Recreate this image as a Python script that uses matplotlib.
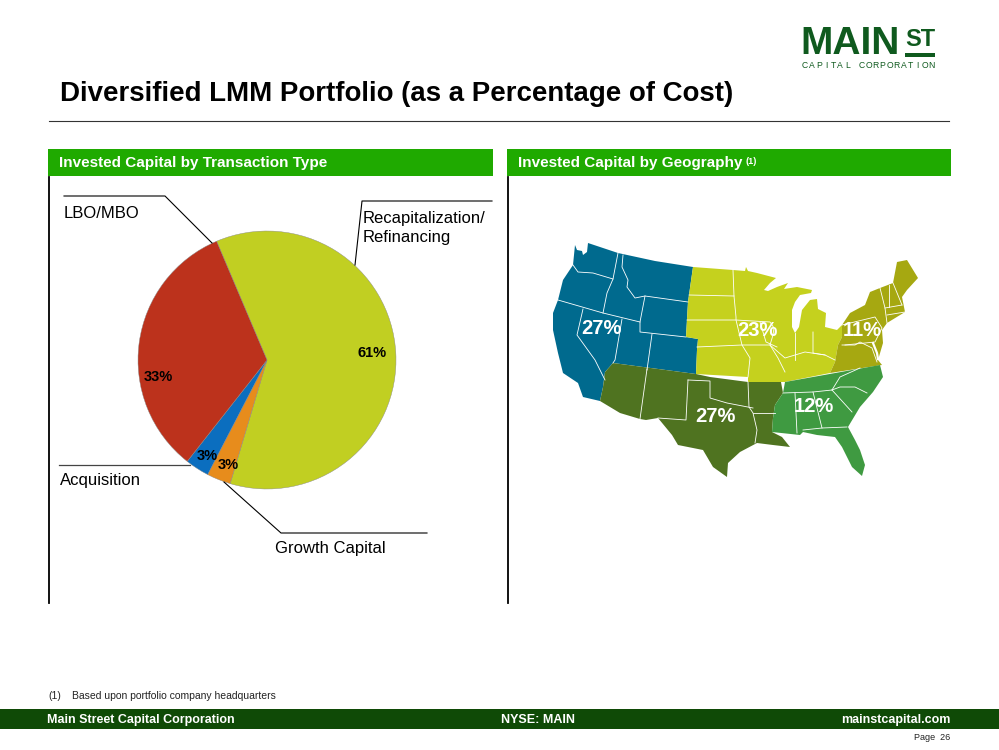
import matplotlib
matplotlib.use("Agg")
from matplotlib import pyplot as plt
from matplotlib.patches import Polygon, Rectangle

plt.rcParams['font.family'] = ['Liberation Sans', 'DejaVu Sans']

# pie data
pie_names = ["Recapitalization/\nRefinancing", "Growth Capital", "Acquisition", "LBO/MBO"]
pie_values = [61, 3, 3, 33]
pie_colors = ["#C1CF22", "#E78C1C", "#0B6EBF", "#BC321C"]

# map labels
geo_labels = ["27%", "23%", "11%", "27%", "12%"]
geo_pos = [(601, 329), (757, 331), (862, 331), (715, 417), (814, 407)]

# region outlines, pixels of the slide
west = [(575, 245), (577, 250), (582, 251), (583, 255), (587, 252), (588, 243), (618, 253), (655, 261), (693, 267),
        (688, 302), (686, 337), (698, 339), (697, 350), (696, 374), (613, 363), (605, 372), (603, 387), (600, 401),
        (583, 397), (578, 383), (563, 373), (558, 353), (553, 330), (553, 313), (558, 300), (563, 280), (573, 265)]
southwest = [(613, 363), (696, 374), (710, 377), (748, 382), (781, 382), (783, 393), (775, 405), (773, 418), (772, 432),
             (782, 437), (790, 447), (773, 445), (757, 443), (740, 452), (728, 463), (727, 477), (713, 467), (703, 450),
             (678, 445), (672, 435), (658, 418), (646, 420), (640, 419), (620, 413), (600, 401), (603, 387), (605, 372)]
midwest = [(693, 267), (733, 270), (745, 271), (746, 267), (748, 271), (757, 273), (776, 278), (770, 283), (764, 290),
           (768, 291), (777, 287), (788, 283), (784, 289), (797, 287), (812, 290), (811, 293), (800, 295), (795, 302),
           (792, 310), (792, 327), (795, 333), (799, 327), (802, 310), (810, 300), (817, 299), (818, 309), (826, 313),
           (825, 327), (837, 330), (842, 325), (842, 337), (838, 345), (835, 362), (830, 373), (785, 382), (748, 382),
           (748, 377), (696, 374), (697, 350), (698, 339), (686, 337), (688, 302)]
northeast = [(842, 325), (850, 313), (865, 305), (870, 292), (880, 288), (893, 283), (897, 262), (907, 260), (918, 278),
             (907, 290), (902, 297), (905, 312), (887, 323), (882, 330), (883, 343), (878, 360), (882, 365), (830, 373),
             (835, 362), (838, 345), (842, 337)]
southeast = [(785, 382), (880, 365), (883, 377), (873, 392), (860, 407), (848, 427), (855, 440), (860, 450), (865, 465),
             (862, 476), (852, 467), (842, 447), (835, 437), (817, 435), (803, 432), (800, 435), (772, 432), (773, 418),
             (775, 405), (783, 393)]
regions = [(west, "#006A8E"), (southwest, "#4F7320"), (midwest, "#C5D11E"), (northeast, "#A6A811"), (southeast, "#3F9A41")]

# state borders
borders = [
    [(573, 265), (578, 272), (593, 273), (613, 279)],
    [(618, 253), (613, 279), (607, 293), (603, 313)],
    [(558, 300), (603, 313), (640, 322)],
    [(623, 255), (622, 267), (628, 280), (627, 287), (635, 298), (645, 296), (688, 302)],
    [(645, 296), (640, 322), (640, 332), (686, 337)],
    [(622, 319), (615, 360), (613, 363)],
    [(583, 309), (577, 335), (595, 360), (605, 380)],
    [(652, 334), (647, 370)],
    [(647, 369), (640, 419)],
    [(688, 380), (686, 420), (658, 418)],
    [(688, 380), (710, 381), (710, 398), (727, 403), (753, 408)],
    [(748, 382), (749, 407), (753, 413), (757, 430), (755, 443)],
    [(753, 413), (775, 413)],
    [(733, 270), (734, 296), (736, 317), (736, 320), (742, 345), (750, 358), (748, 377)],
    [(689, 295), (734, 296)],
    [(687, 320), (736, 320), (770, 322), (774, 328), (773, 335), (770, 345), (778, 358), (785, 372)],
    [(697, 347), (742, 345), (770, 345)],
    [(760, 322), (766, 342), (777, 347)],
    [(795, 333), (795, 360)],
    [(813, 332), (813, 353), (825, 355), (835, 360)],
    [(770, 345), (785, 358), (805, 352), (825, 355)],
    [(842, 325), (875, 317), (882, 328), (875, 342), (845, 345)],
    [(842, 345), (855, 345), (860, 342), (872, 348), (877, 362)],
    [(880, 288), (885, 308), (887, 323)],
    [(889, 285), (889, 307)],
    [(893, 283), (902, 305)],
    [(885, 308), (902, 305)],
    [(887, 315), (905, 312)],
    [(783, 393), (813, 392), (832, 390), (840, 377), (860, 368)],
    [(832, 390), (840, 387), (855, 387), (867, 393)],
    [(795, 393), (797, 433)],
    [(813, 392), (822, 428)],
    [(803, 430), (822, 428), (847, 427)],
    [(832, 390), (852, 412)],
]
# Chesapeake, a white gash in the map
bay = [(873, 343), (877, 353), (878, 359)]

fig = plt.figure(figsize=(9.99, 7.5), dpi=100)

# pie has its own axes, centre 267,360 radius 129
ax_pie = fig.add_axes([138 / 999, (750 - 489) / 750, 258 / 999, 258 / 750])
ax_pie.pie(pie_values, colors=pie_colors, startangle=113, counterclock=False, radius=1,
           wedgeprops={'linewidth': 0.3, 'edgecolor': '#888888'})
ax_pie.set_xlim(-1, 1)
ax_pie.set_ylim(-1, 1)
ax_pie.axis('off')

# everything else on a pixel axes
ax = fig.add_axes([0, 0, 1, 1], zorder=2)
ax.set_xlim(0, 999)
ax.set_ylim(750, 0)
ax.axis('off')
ax.patch.set_alpha(0)

for pts, col in regions:
    ax.add_patch(Polygon(pts, closed=True, facecolor=col, edgecolor='none'))
for line in borders:
    ax.plot([p[0] for p in line], [p[1] for p in line], color='white', lw=0.6)
ax.plot([p[0] for p in bay], [p[1] for p in bay], color='white', lw=1.6)
for lab, (x, y) in zip(geo_labels, geo_pos):
    ax.text(x, y, lab, color='white', fontsize=14.5, fontweight='bold', ha='center', va='center')

# title and rule
ax.text(60, 94, "Diversified LMM Portfolio (as a Percentage of Cost)", fontsize=19.9, fontweight='bold',
        color='black', ha='left', va='center')
ax.plot([49, 949], [121, 121], color='#333333', lw=0.8)

# panel headers
green = "#1FAA00"
ax.add_patch(Rectangle((48, 149), 445, 27, facecolor=green, edgecolor='none'))
ax.add_patch(Rectangle((507, 149), 444, 27, facecolor=green, edgecolor='none'))
ax.text(59, 163, "Invested Capital by Transaction Type", color='white', fontsize=10.95, fontweight='bold', va='center')
ax.text(518, 163, "Invested Capital by Geography", color='white', fontsize=10.95, fontweight='bold', va='center')
ax.text(745, 161, "(1)", color='white', fontsize=6.5, fontweight='bold', va='center')
ax.plot([49, 49], [177, 603], color='black', lw=1.3)
ax.plot([508, 508], [177, 603], color='black', lw=1.3)

# pie labels and leaders
ax.text(158, 377, "33%", fontsize=10.5, fontweight='bold', ha='center', va='center', color='black')
ax.text(372, 353, "61%", fontsize=10.5, fontweight='bold', ha='center', va='center', color='black')
ax.text(207, 456, "3%", fontsize=10.5, fontweight='bold', ha='center', va='center', color='black')
ax.text(228, 465, "3%", fontsize=10.5, fontweight='bold', ha='center', va='center', color='black')
ax.plot([64, 165, 212], [196, 196, 243], color='black', lw=0.8)
ax.plot([492, 362, 355], [201, 201, 265], color='black', lw=0.8)
ax.plot([59, 190], [465, 465], color='#444444', lw=0.9)
ax.plot([224, 281, 427], [482, 533, 533], color='black', lw=0.8)
ax.text(363, 228, pie_names[0], fontsize=12, va='center', linespacing=1.3, color='black')
ax.text(275, 549, pie_names[1], fontsize=12, va='center', color='black')
ax.text(60, 481, pie_names[2], fontsize=12, va='center', color='black')
ax.text(64, 213, pie_names[3], fontsize=12, va='center', color='black')

# logo
logo = "#0F5A1E"
ax.text(800, 44, "MAIN", color=logo, fontsize=28, fontweight='bold', va='center', ha='left')
ax.text(905, 39, "ST", color=logo, fontsize=17, fontweight='bold', va='center', ha='left')
ax.add_patch(Rectangle((905, 53), 30, 4, facecolor=logo, edgecolor='none'))
for i, ch in enumerate("CAPITAL CORPORATION"):
    ax.text(805 + i * 7.05, 65, ch, color=logo, fontsize=6.2, va='center', ha='center')

# footer
ax.text(48, 696, "(1)", fontsize=7.5, va='center', color='#222222')
ax.text(72, 696, "Based upon portfolio company headquarters", fontsize=7.5, va='center', color='#222222')
ax.add_patch(Rectangle((0, 709), 999, 20, facecolor="#0F4A06", edgecolor='none'))
ax.text(47, 720, "Main Street Capital Corporation", color='white', fontsize=9, fontweight='bold', va='center')
ax.text(538, 720, "NYSE: MAIN", color='white', fontsize=9, fontweight='bold', va='center', ha='center')
ax.text(951, 720, "mainstcapital.com", color='white', fontsize=9, fontweight='bold', va='center', ha='right')
ax.text(950, 737, "Page  26", fontsize=6.5, va='center', ha='right', color='#222222')

fig.savefig("out.png", dpi=100)
